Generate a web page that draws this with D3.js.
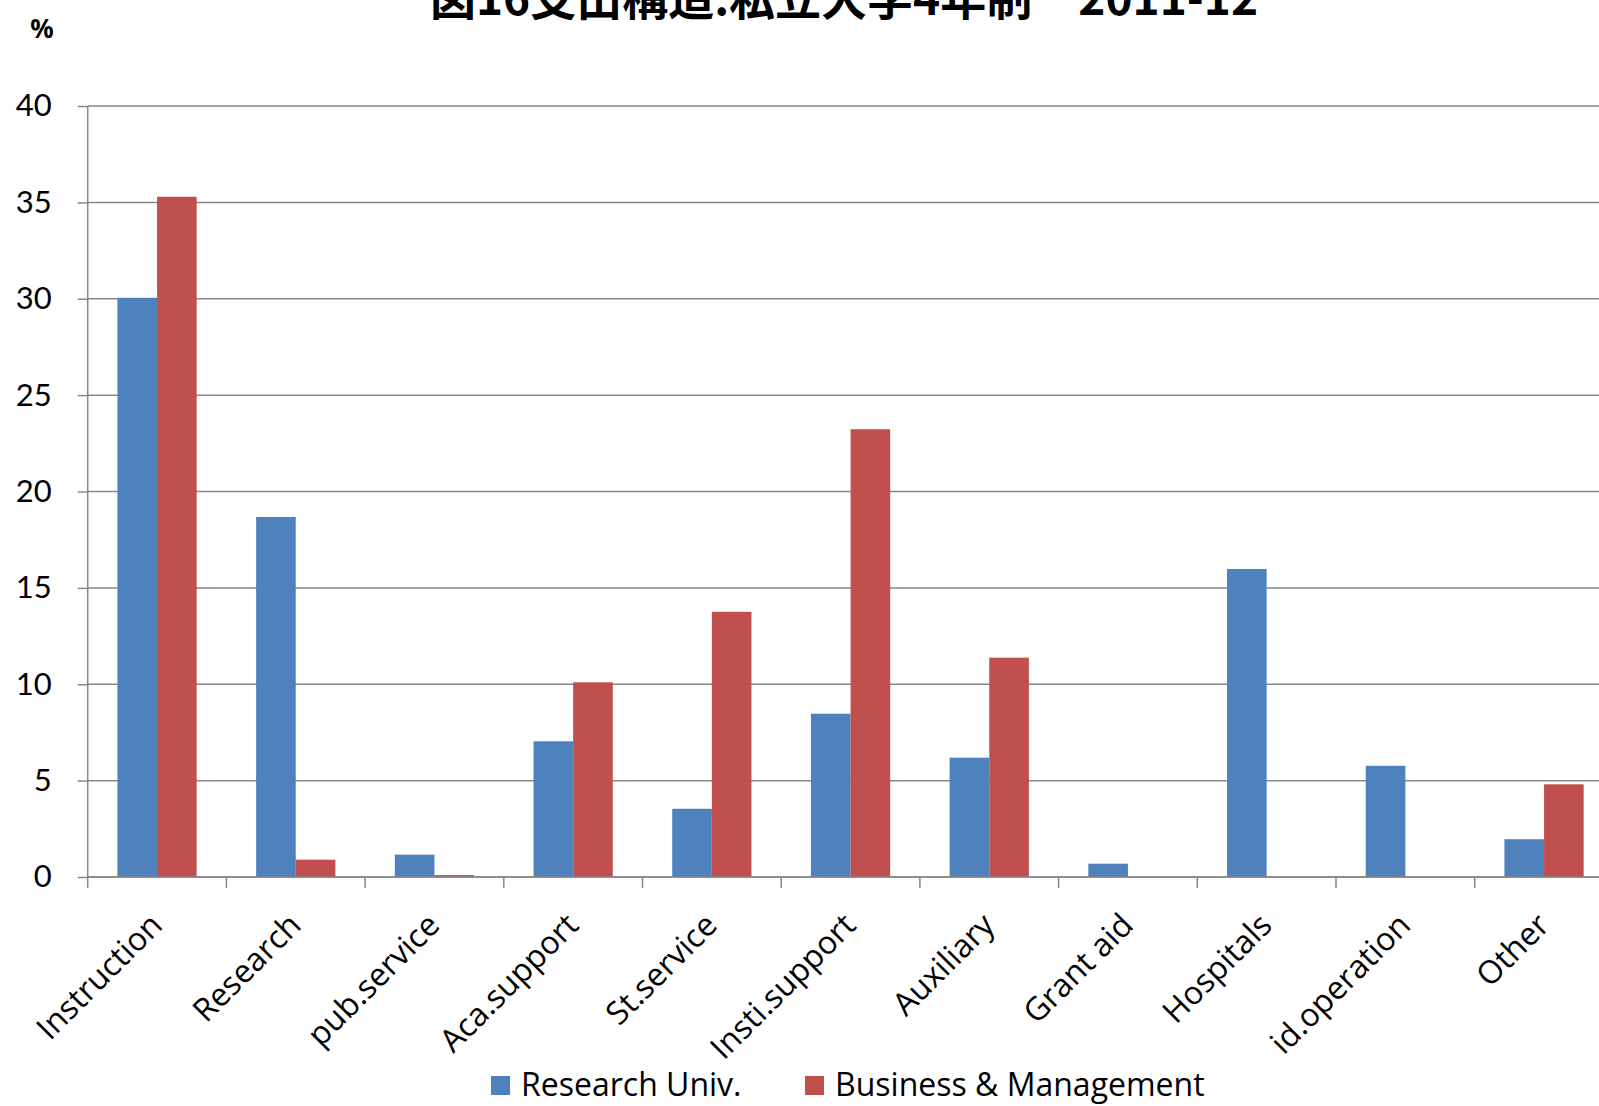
<!DOCTYPE html>
<html>
<head>
<meta charset="utf-8">
<script src="https://cdn.jsdelivr.net/npm/d3@7"></script>
<style>
  body { margin: 0; background: #fff; }
  svg { display: block; }
  .tick text { fill: #000; }
</style>
</head>
<body>
<svg width="1599" height="1106"></svg>
<script>
// data
const categories = ['Instruction', 'Research', 'pub.service', 'Aca.support', 'St.service',
  'Insti.support', 'Auxiliary', 'Grant aid', 'Hospitals', 'id.operation', 'Other'];
const seriesNames = ['Research Univ.', 'Business & Management'];
const researchUniv = [30.05, 18.68, 1.16, 7.04, 3.54, 8.47, 6.19, 0.69, 15.98, 5.77, 1.96];
const businessMgmt = [35.29, 0.9, 0.1, 10.1, 13.76, 23.23, 11.38, 0, 0, 0, 4.81];
const yTicks = [0, 5, 10, 15, 20, 25, 30, 35, 40];
const colors = ['#4f81bd', '#c0504d'];

const svg = d3.select('svg');
const W = 1599;
const plotLeft = 87.7, step = 138.7;
const plotTop = 106, plotBottom = 877;

const x = d3.scaleBand()
  .domain(categories)
  .range([plotLeft, plotLeft + step * categories.length]);

const xs = d3.scaleBand()
  .domain(seriesNames)
  .range([0, x.bandwidth()])
  .paddingOuter(0.75);

const y = d3.scaleLinear().domain([0, 40]).range([plotBottom, plotTop]);

const rows = categories.map((c, i) => ({ cat: c, values: [researchUniv[i], businessMgmt[i]] }));

// gridlines
svg.append('g')
  .selectAll('line')
  .data(yTicks)
  .join('line')
  .attr('x1', plotLeft).attr('x2', W)
  .attr('y1', d => y(d)).attr('y2', d => y(d))
  .attr('stroke', '#878787')
  .attr('stroke-width', 1.5);

// bars
svg.append('g')
  .selectAll('g')
  .data(rows)
  .join('g')
  .attr('transform', d => `translate(${x(d.cat)},0)`)
  .selectAll('rect')
  .data(d => d.values.map((v, k) => ({ name: seriesNames[k], v: v, k: k })))
  .join('rect')
  .attr('x', d => xs(d.name))
  .attr('width', xs.bandwidth())
  .attr('y', d => y(d.v))
  .attr('height', d => y(0) - y(d.v))
  .attr('fill', d => colors[d.k]);

// y axis
const yAxis = svg.append('g')
  .attr('transform', `translate(${plotLeft},0)`)
  .call(d3.axisLeft(y).tickValues(yTicks).tickSize(10).tickPadding(26));
yAxis.selectAll('line, path').attr('stroke', '#878787').attr('stroke-width', 1.5);
yAxis.select('.domain').attr('d', `M0,${plotTop}V${plotBottom}`);
yAxis.selectAll('text')
  .attr('font-family', 'Lato, sans-serif')
  .attr('font-size', 31);

// x axis line and boundary ticks
svg.append('line')
  .attr('x1', plotLeft).attr('x2', W)
  .attr('y1', plotBottom).attr('y2', plotBottom)
  .attr('stroke', '#878787').attr('stroke-width', 1.5);
svg.append('g')
  .selectAll('line')
  .data(categories)
  .join('line')
  .attr('x1', d => x(d)).attr('x2', d => x(d))
  .attr('y1', plotBottom).attr('y2', plotBottom + 11)
  .attr('stroke', '#878787').attr('stroke-width', 1.5);

// category labels
const xAxis = svg.append('g')
  .attr('transform', `translate(0,${plotBottom})`)
  .call(d3.axisBottom(x).tickSize(0));
xAxis.select('.domain').remove();
xAxis.selectAll('text')
  .attr('font-family', '"Open Sans", sans-serif')
  .attr('font-size', 32)
  .attr('text-anchor', 'end')
  .attr('dy', 0)
  .attr('transform', 'translate(5,48) rotate(-45)');

// title (clipped at the top like the original)
svg.append('text')
  .attr('x', 844).attr('y', 15)
  .attr('text-anchor', 'middle')
  .attr('font-family', '"Noto Sans CJK JP", sans-serif')
  .attr('font-weight', 'bold')
  .attr('font-size', 46)
  .text('図16支出構造:私立大学4年制\u30002011-12');

svg.append('text')
  .attr('x', 42).attr('y', 38)
  .attr('text-anchor', 'middle')
  .attr('font-family', '"Noto Sans", sans-serif')
  .attr('font-weight', 'bold')
  .attr('font-size', 26)
  .text('%');

// legend
const legendX = [491, 805];
const legend = svg.append('g')
  .selectAll('g')
  .data(seriesNames)
  .join('g')
  .attr('transform', (d, i) => `translate(${legendX[i]},1076)`);
legend.append('rect')
  .attr('width', 19).attr('height', 19)
  .attr('fill', (d, i) => colors[i]);
legend.append('text')
  .attr('x', 30).attr('y', 20)
  .attr('font-family', '"Open Sans", sans-serif')
  .attr('font-size', 32)
  .text(d => d);
</script>
</body>
</html>
